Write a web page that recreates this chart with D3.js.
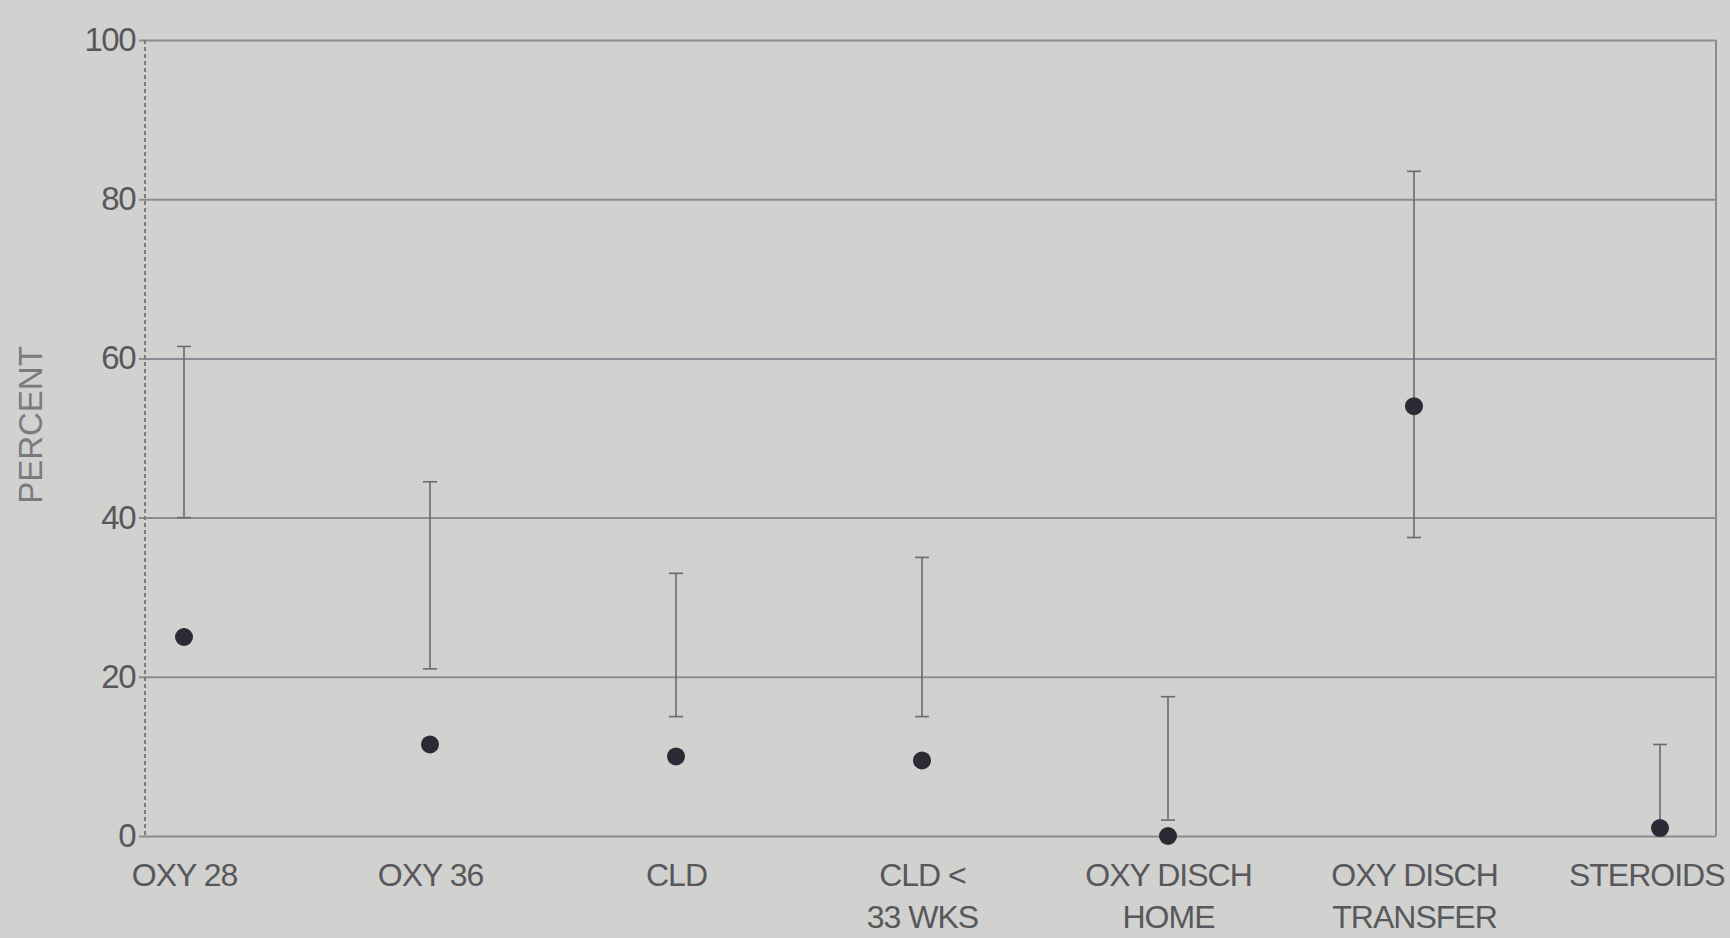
<!DOCTYPE html>
<html>
<head>
<meta charset="utf-8">
<script src="https://cdn.jsdelivr.net/npm/d3@7"></script>
<style>
  body { margin: 0; background: #d1d1cf; }
  svg { display: block; }
</style>
</head>
<body>
<div id="chart"></div>
<script>
// categories, each label split in lines
var categories = ["OXY 28", "OXY 36", "CLD", "CLD <|33 WKS", "OXY DISCH|HOME", "OXY DISCH|TRANSFER", "STEROIDS"]
var values = [25, 11.5, 10, 9.5, 0, 54, 1]
var lowerCI = [40, 21, 15, 15, 2, 37.5, 1]
var upperCI = [61.5, 44.5, 33, 35, 17.5, 83.5, 11.5]
var yTicks = [0, 20, 40, 60, 80, 100]

var width = 1730
var height = 938

var plotLeft = 145
var plotRight = 1716
var plotTop = 40
var plotBottom = 836

var svg = d3.select("#chart")
            .append("svg")
            .attr("width", width)
            .attr("height", height)

svg.append("rect")
   .attr("width", "100%")
   .attr("height", "100%")
   .attr("fill", "#d1d1cf")

var x = d3.scalePoint()
          .domain(categories)
          .range([184, 1660])

var y = d3.scaleLinear()
          .domain([0, 100])
          .range([plotBottom, plotTop])

// horizontal grid lines
var yAxis = d3.axisLeft(y)
              .tickValues(yTicks)
              .tickSize(-(plotRight - plotLeft))
              .tickPadding(8)

var yg = svg.append("g")
            .attr("transform", "translate(" + plotLeft + ",0)")
            .call(yAxis)

yg.select(".domain").remove()
yg.selectAll(".tick line")
  .attr("stroke", "#8b8b94")
  .attr("stroke-width", 2)
  .attr("x1", -6)
yg.selectAll(".tick text")
  .attr("font-family", "Liberation Sans, Arial, sans-serif")
  .attr("font-size", 33)
  .attr("letter-spacing", -1.5)
  .attr("fill", "#58585c")
  .attr("dx", -2)

// dashed left axis
svg.append("line")
   .attr("x1", plotLeft)
   .attr("x2", plotLeft)
   .attr("y1", plotTop)
   .attr("y2", plotBottom)
   .attr("stroke", "#7c7c84")
   .attr("stroke-width", 2)
   .attr("stroke-dasharray", "4,3")

// right border
svg.append("line")
   .attr("x1", plotRight)
   .attr("x2", plotRight)
   .attr("y1", plotTop)
   .attr("y2", plotBottom)
   .attr("stroke", "#8b8b94")
   .attr("stroke-width", 2)

// category labels
var xg = svg.append("g")
            .attr("transform", "translate(0," + plotBottom + ")")
            .call(d3.axisBottom(x).tickSize(0).tickFormat(""))
xg.select(".domain").remove()

var labels = xg.selectAll(".tick")
  .append("text")
  .attr("text-anchor", "middle")
  .attr("font-family", "Liberation Sans, Arial, sans-serif")
  .attr("font-size", 32)
  .attr("letter-spacing", -1)
  .attr("fill", "#58585c")

labels.selectAll("tspan")
  .data(function(d) { return d.split("|") })
  .join("tspan")
  .attr("x", 0)
  .attr("y", function(d, i) { return 50 + i * 42 })
  .text(function(d) { return d })

// keep the last label inside the picture
labels.each(function(d) {
  var b = this.getBBox()
  var over = x(d) + b.x + b.width - (width - 6)
  if (over > 0) d3.select(this).attr("transform", "translate(" + (-over) + ",0)")
})

var idx = d3.range(categories.length)

// error bars
var bars = svg.append("g")
              .attr("stroke", "#6a6a76")
              .attr("stroke-width", 1.6)

bars.selectAll(".stem")
    .data(idx)
    .join("line")
    .attr("x1", function(i) { return x(categories[i]) })
    .attr("x2", function(i) { return x(categories[i]) })
    .attr("y1", function(i) { return y(lowerCI[i]) })
    .attr("y2", function(i) { return y(upperCI[i]) })

bars.selectAll(".capTop")
    .data(idx)
    .join("line")
    .attr("x1", function(i) { return x(categories[i]) - 7 })
    .attr("x2", function(i) { return x(categories[i]) + 7 })
    .attr("y1", function(i) { return y(upperCI[i]) })
    .attr("y2", function(i) { return y(upperCI[i]) })

bars.selectAll(".capBottom")
    .data(idx)
    .join("line")
    .attr("x1", function(i) { return x(categories[i]) - 7 })
    .attr("x2", function(i) { return x(categories[i]) + 7 })
    .attr("y1", function(i) { return y(lowerCI[i]) })
    .attr("y2", function(i) { return y(lowerCI[i]) })

// points
svg.append("g")
   .selectAll("circle")
   .data(idx)
   .join("circle")
   .attr("cx", function(i) { return x(categories[i]) })
   .attr("cy", function(i) { return y(values[i]) })
   .attr("r", 9)
   .attr("fill", "#2b2b36")

// y title
svg.append("text")
   .attr("transform", "translate(42,425) rotate(-90)")
   .attr("text-anchor", "middle")
   .attr("font-family", "Liberation Sans, Arial, sans-serif")
   .attr("font-size", 33)
   .attr("fill", "#7a7a80")
   .text("PERCENT")
</script>
</body>
</html>
